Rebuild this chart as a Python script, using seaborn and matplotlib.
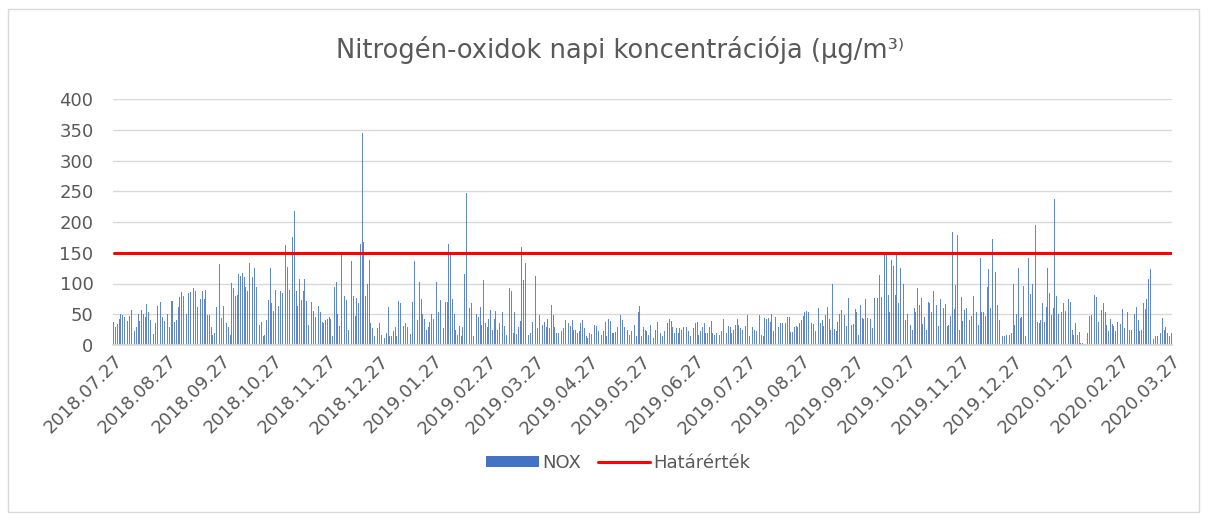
import numpy as np
import pandas as pd
import matplotlib
matplotlib.use("Agg")
import matplotlib.pyplot as plt
import seaborn as sns
from matplotlib.patches import Patch, Rectangle
from matplotlib.lines import Line2D

# Daily NOx values (µg/m3), one list per month block starting on the 27th
m01 = [37,30,34,43,50,49,46,41,39,47,57,56,23,30,51,39,57,51,46,67,53,41,23,18,35,63,70,70,46,39,51]
m02 = [50,30,72,72,38,41,62,78,86,79,3,50,84,86,74,92,88,62,70,74,87,74,90,48,48,30,16,19,61,139,132]
m03 = [44,63,60,35,29,16,101,92,80,81,115,112,117,110,95,88,134,148,110,126,95,54,32,38,15,17,41,73,126,69]
m04 = [56,89,139,63,88,85,112,163,127,90,176,176,218,88,63,108,73,87,107,72,32,95,70,56,46,41,63,54,38,36,41]
m05 = [43,46,43,15,94,103,50,31,148,89,79,73,24,32,136,79,47,76,68,165,345,167,80,100,139,35,27,14,17,28]
m06 = [35,17,23,12,19,62,14,14,23,30,14,72,69,49,31,35,29,19,18,70,136,28,41,102,74,51,42,24,30,38,51]
m07 = [43,61,102,54,73,60,27,70,70,164,149,74,50,25,16,31,14,29,115,247,192,60,68,14,29,51,45,61,32,105,35]
m08 = [29,43,57,25,43,56,24,35,47,53,31,16,42,92,87,20,53,18,30,39,159,105,134,22,16,20,38,60]
m09 = [112,27,49,39,32,38,30,42,27,65,49,30,20,19,24,22,27,40,32,36,31,41,24,24,19,23,35,41,27,15,11]
m10 = [19,18,11,32,31,22,19,17,22,38,14,42,39,20,19,21,30,42,49,41,29,28,24,16,22,22,32,15,54,63]
m11 = [15,29,24,23,17,32,19,11,25,37,35,19,14,22,25,35,43,39,30,19,27,19,27,24,29,24,29,23,15,19,27]
m12 = [36,38,16,22,30,35,19,19,29,39,19,17,20,31,16,22,43,25,19,31,30,20,25,32,43,32,28,24,28,31]
m13 = [49,15,17,29,24,23,23,48,17,15,44,42,44,37,50,22,45,19,29,36,35,23,35,45,46,21,21,29,31,30,35]
m14 = [40,47,53,56,53,46,36,34,23,54,60,35,40,31,49,61,43,24,100,26,22,37,50,57,57,49,31,76,46,32,34]
m15 = [59,53,16,65,44,43,74,44,76,43,27,76,74,76,114,78,107,148,146,82,53,138,128,81,150,69,125,133,100,41]
m16 = [50,63,32,25,60,53,92,65,76,34,46,25,70,68,53,87,53,65,31,74,79,60,66,31,32,47,183,58,98,179,24]
m17 = [78,39,57,60,57,41,47,80,73,53,32,141,53,54,47,94,123,60,173,72,118,65,40,14,14,15,17,11,17,20]
m18 = [100,32,50,125,44,46,96,15,163,141,83,100,108,195,38,35,40,68,38,61,125,84,49,60,237,80,50,43,53,68,56]
m19 = [56,74,70,24,16,35,17,21,3,3,2,26,19,47,49,47,82,78,38,98,57,68,53,32,22,43,34,31,22,38,41]
m20 = [34,58,27,61,53,24,25,106,50,61,41,22,24,68,58,74,107,123,45,9,14,15,23,20,44,24,30,19,15,19]

start_date = "2018-07-27"
limit_value = 150
series_name = "NOX"
limit_name = "Határérték"
title_text = "Nitrogén-oxidok napi koncentrációja (µg/m³⁾"
y_ticks = [0, 50, 100, 150, 200, 250, 300, 350, 400]

nox = m01+m02+m03+m04+m05+m06+m07+m08+m09+m10+m11+m12+m13+m14+m15+m16+m17+m18+m19+m20
dates = pd.date_range(start_date, periods=len(nox), freq="D")
df = pd.DataFrame({"day": np.arange(len(nox)), "nox": nox, "limit": [limit_value]*len(nox)})

sns.set_theme(style="white")
plt.rcParams['font.family'] = ['DejaVu Sans']
txt = "#595959"
bar_color = "#4472C4"

fig = plt.figure(figsize=(12.08, 5.2), dpi=100)
ax = fig.add_axes([113/1208, 1-345/520, (1172-113)/1208, (345-99)/520])

sns.barplot(data=df, x="day", y="nox", native_scale=True, color=bar_color,
            width=0.5, linewidth=0, saturation=1, alpha=0.85, ax=ax)
sns.lineplot(data=df, x="day", y="limit", color="#FF0000", linewidth=2.2, ax=ax)

ax.set_xlim(-0.5, len(nox)-0.5)
ax.set_ylim(0, 400)
ax.set_yticks(y_ticks)
ax.yaxis.grid(True, color="#D9D9D9", linewidth=1)
ax.set_axisbelow(True)
for s in ["top", "right", "left"]:
    ax.spines[s].set_visible(False)
ax.spines["bottom"].set_color("#D9D9D9")

tick_idx = [i for i, d in enumerate(dates) if d.day == 27]
ax.set_xticks(tick_idx)
ax.set_xticklabels([dates[i].strftime("%Y.%m.%d") for i in tick_idx],
                   rotation=45, ha="right", rotation_mode="anchor")
ax.tick_params(axis="x", length=0, pad=5, labelsize=13, labelcolor=txt)
ax.tick_params(axis="y", length=0, pad=14, labelsize=13, labelcolor=txt)
ax.set_xlabel("")
ax.set_ylabel("")

fig.text(0.513, 1-50/520, title_text, ha="center", va="center", fontsize=18.5, color=txt)

handles = [Patch(facecolor=bar_color, edgecolor="none"),
           Line2D([0], [0], color="#FF0000", linewidth=2.2)]
fig.legend(handles, [series_name, limit_name], loc="center", bbox_to_anchor=(0.512, 1-463/520),
           ncol=2, frameon=False, fontsize=13, labelcolor=txt, handlelength=2.9,
           handleheight=0.5, columnspacing=0.9, handletextpad=0.2)

fig.patches.append(Rectangle((8/1208, 8/520), 1191/1208, 503/520, transform=fig.transFigure,
                             fill=False, edgecolor="#D9D9D9", linewidth=1))

fig.savefig("out.png", dpi=100)
